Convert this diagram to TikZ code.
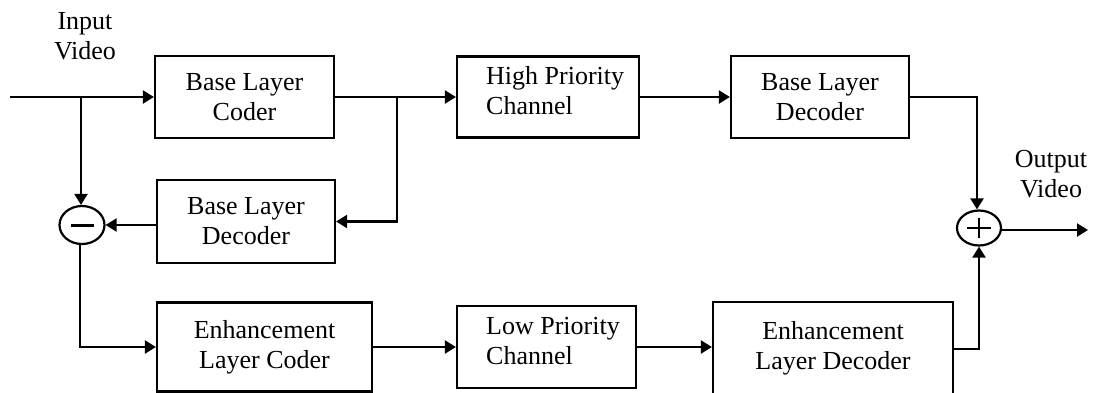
\documentclass[tikz,border=0pt]{standalone}
\usepackage{fontspec}
\setmainfont{Liberation Serif}
\usetikzlibrary{arrows.meta,shapes.geometric}
\begin{document}
\begin{tikzpicture}[x=1pt,y=-1pt,
  every node/.style={font=\fontsize{26}{30}\selectfont},
  blk/.style={draw,line width=2.2pt,inner sep=0pt,align=center},
  txt/.style={inner sep=0pt,align=center},
  lft/.style={inner sep=0pt,align=left,anchor=west},
  sumnode/.style={draw,ellipse,line width=2.2pt,inner sep=0pt,minimum width=45pt,minimum height=38pt},
  conn/.style={line width=2.2pt,-{Triangle[length=11pt,width=13pt]}},
  wire/.style={line width=2.2pt}]
\useasboundingbox (0,0) rectangle (1096,392);
% boxes
\node[blk,minimum width=179pt,minimum height=82pt] (blc) at (244.5,97) {Base Layer\\Coder};
\node[blk,minimum width=182pt,minimum height=81pt] (hpc) at (548,97) {};
\node[lft] (hpct) at (486,91) {High Priority\\Channel};
\node[blk,minimum width=178pt,minimum height=82pt] (bld2) at (820,97) {Base Layer\\Decoder};
\node[blk,minimum width=178pt,minimum height=83pt] (bld) at (246,221.5) {Base Layer\\Decoder};
\node[blk,minimum width=215pt,minimum height=89pt] (elc) at (264.5,347) {Enhancement\\Layer Coder};
\node[blk,minimum width=179pt,minimum height=82pt] (lpc) at (546.5,347) {};
\node[lft] (lpct) at (486,341) {Low Priority\\Channel};
\node[blk,minimum width=240pt,minimum height=92pt] (eld) at (833,348) {Enhancement\\Layer Decoder};
% summing nodes
\node[sumnode] (minus) at (82,225) {};
\draw[line width=3pt] ([xshift=-11.5pt]minus.center) -- ([xshift=11.5pt]minus.center);
\node[sumnode,minimum width=44pt,minimum height=35pt] (plus) at (979,228) {};
\draw[wire] ([xshift=-12pt]plus.center) -- ([xshift=12pt]plus.center);
\draw[wire] ([yshift=-10pt]plus.center) -- ([yshift=10pt]plus.center);
% labels
\node[txt] (inlab) at (85,36) {Input\\Video};
\node[txt] (outlab) at (1051,174) {Output\\Video};
% coordinates
\coordinate (in) at (10,97);
\coordinate (br) at (81,97);
\coordinate (jn) at (397,97);
\coordinate (out) at (1088,230);
% connectors
\draw[conn] (in) -- (blc.west);
\draw[conn] (br) -- (br |- minus.north);
\draw[conn] (blc.east) -- (hpc.west);
\draw[conn] (jn) -- (jn |- bld.east) -- (bld.east);
\draw[conn] (bld.west |- minus.east) -- (minus.east);
\draw[conn] (minus.south) ++(-2,0) |- (elc.west);
\draw[conn] (elc.east) -- (lpc.west);
\draw[conn] (lpc.east) -- (lpc.east -| eld.west);
\draw[conn] (hpc.east) -- (bld2.west);
\draw[conn] (bld2.east) -| ([xshift=-2pt]plus.north);
\draw[conn] ([yshift=-1pt]eld.east) -| (plus.south);
\draw[conn] (plus.east |- out) -- (out);
\end{tikzpicture}
\end{document}
